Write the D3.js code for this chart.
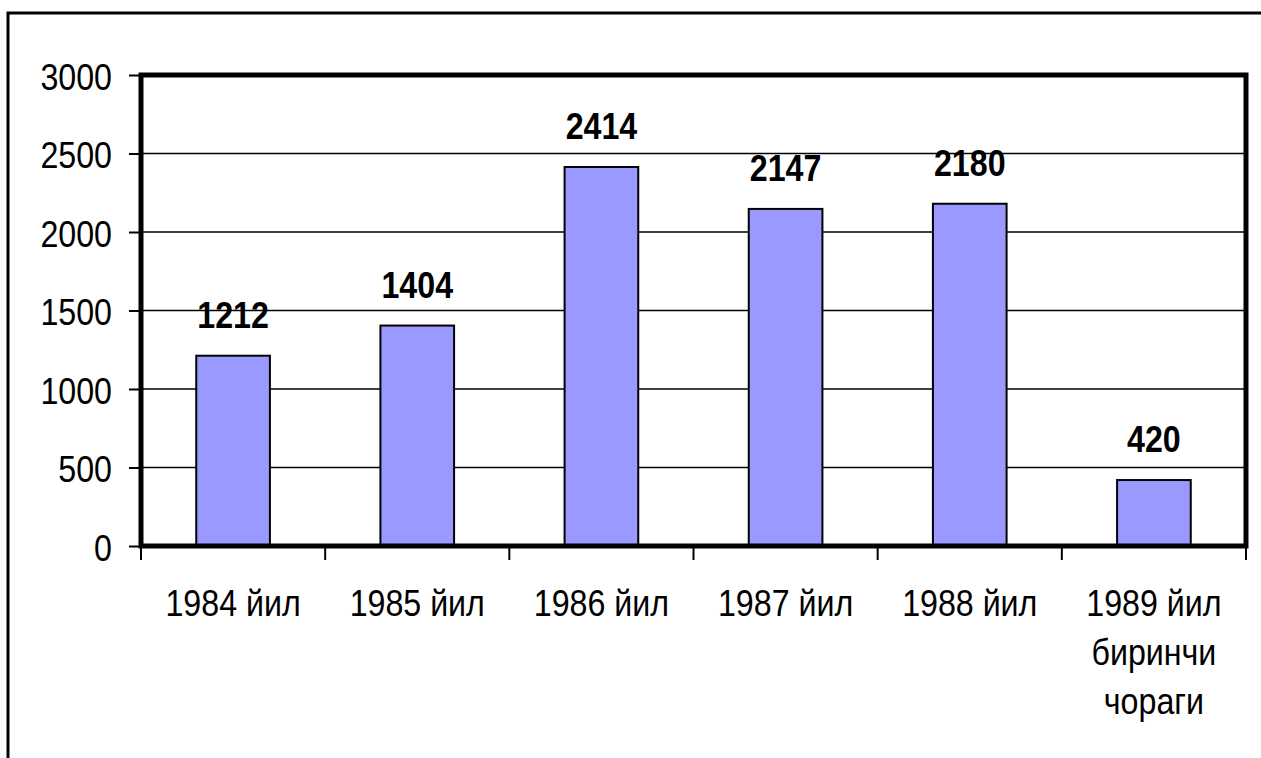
<!DOCTYPE html>
<html>
<head>
<meta charset="utf-8">
<script src="https://cdn.jsdelivr.net/npm/d3@7"></script>
<style>
  html, body { margin: 0; padding: 0; background: #fff; }
  svg { display: block; }
  text { font-family: "Liberation Sans", Arial, sans-serif; }
</style>
</head>
<body>
<svg id="chart" width="1261" height="758"></svg>
<script>
// Data
const categories = ["1984", "1985", "1986", "1987", "1988", "1989q1"];
const categoryLabels = [
  ["1984 йил"],
  ["1985 йил"],
  ["1986 йил"],
  ["1987 йил"],
  ["1988 йил"],
  ["1989 йил", "биринчи", "чораги"]
];
const values = [1212, 1404, 2414, 2147, 2180, 420];
const yTicks = [0, 500, 1000, 1500, 2000, 2500, 3000];

// Layout
const W = 1261, H = 758;
const plot = { left: 141, right: 1246, top: 75, bottom: 546 };
const fontSize = 37, squeeze = 0.87;

const svg = d3.select("#chart");

// Outer frame (extends past the right and bottom edges)
svg.append("rect")
  .attr("x", 8).attr("y", 13)
  .attr("width", W + 20).attr("height", H + 20)
  .attr("fill", "#fff").attr("stroke", "#000").attr("stroke-width", 3);

const x = d3.scaleBand().domain(categories).range([plot.left, plot.right]).padding(0);
const y = d3.scaleLinear().domain([0, 3000]).range([plot.bottom, plot.top]);

const barW = x.bandwidth() * 0.4;

// Horizontal gridlines
svg.append("g").selectAll("line")
  .data(yTicks.filter(d => d > 0 && d < 3000))
  .join("line")
  .attr("x1", plot.left).attr("x2", plot.right)
  .attr("y1", d => y(d)).attr("y2", d => y(d))
  .attr("stroke", "#000").attr("stroke-width", 1.6);

// Y axis (ticks on the left)
const yAxis = svg.append("g")
  .attr("transform", `translate(${plot.left},0)`)
  .call(d3.axisLeft(y).tickValues(yTicks).tickSize(12).tickFormat(d3.format("d")).tickPadding(0));
yAxis.select(".domain").remove();
yAxis.selectAll(".tick line").attr("stroke", "#000").attr("stroke-width", 2);
yAxis.selectAll(".tick text").remove();
yAxis.selectAll(".tick").append("text")
  .attr("transform", `translate(-29,14) scale(${squeeze},1)`)
  .attr("text-anchor", "end")
  .attr("font-size", fontSize)
  .attr("fill", "#000")
  .text(d => d);

// X axis ticks at category boundaries
const xTickPos = categories.map(c => x(c)).concat([plot.right]);
svg.append("g").selectAll("line")
  .data(xTickPos)
  .join("line")
  .attr("x1", d => d).attr("x2", d => d)
  .attr("y1", plot.bottom).attr("y2", plot.bottom + 14)
  .attr("stroke", "#000").attr("stroke-width", 2);

// Bars
svg.append("g").selectAll("rect")
  .data(values)
  .join("rect")
  .attr("x", (d, i) => x(categories[i]) + (x.bandwidth() - barW) / 2)
  .attr("y", d => y(d))
  .attr("width", barW)
  .attr("height", d => plot.bottom - y(d))
  .attr("fill", "#9999FF")
  .attr("stroke", "#000")
  .attr("stroke-width", 2);

// Plot-area border (thick)
svg.append("rect")
  .attr("x", plot.left).attr("y", plot.top)
  .attr("width", plot.right - plot.left).attr("height", plot.bottom - plot.top)
  .attr("fill", "none").attr("stroke", "#000").attr("stroke-width", 5);

// Value labels
svg.append("g").selectAll("text")
  .data(values)
  .join("text")
  .attr("transform", (d, i) => `translate(${x(categories[i]) + x.bandwidth() / 2},${y(d) - 28}) scale(${squeeze},1)`)
  .attr("text-anchor", "middle")
  .attr("font-size", fontSize)
  .attr("font-weight", "bold")
  .attr("fill", "#000")
  .text(d => d);

// Category labels
const catG = svg.append("g").selectAll("g")
  .data(categoryLabels)
  .join("g")
  .attr("transform", (d, i) => `translate(${x(categories[i]) + x.bandwidth() / 2},616)`);
catG.selectAll("text")
  .data(d => d)
  .join("text")
  .attr("transform", (d, j) => `translate(0,${j * 49}) scale(${squeeze},1)`)
  .attr("text-anchor", "middle")
  .attr("font-size", fontSize)
  .attr("fill", "#000")
  .text(d => d);
</script>
</body>
</html>
